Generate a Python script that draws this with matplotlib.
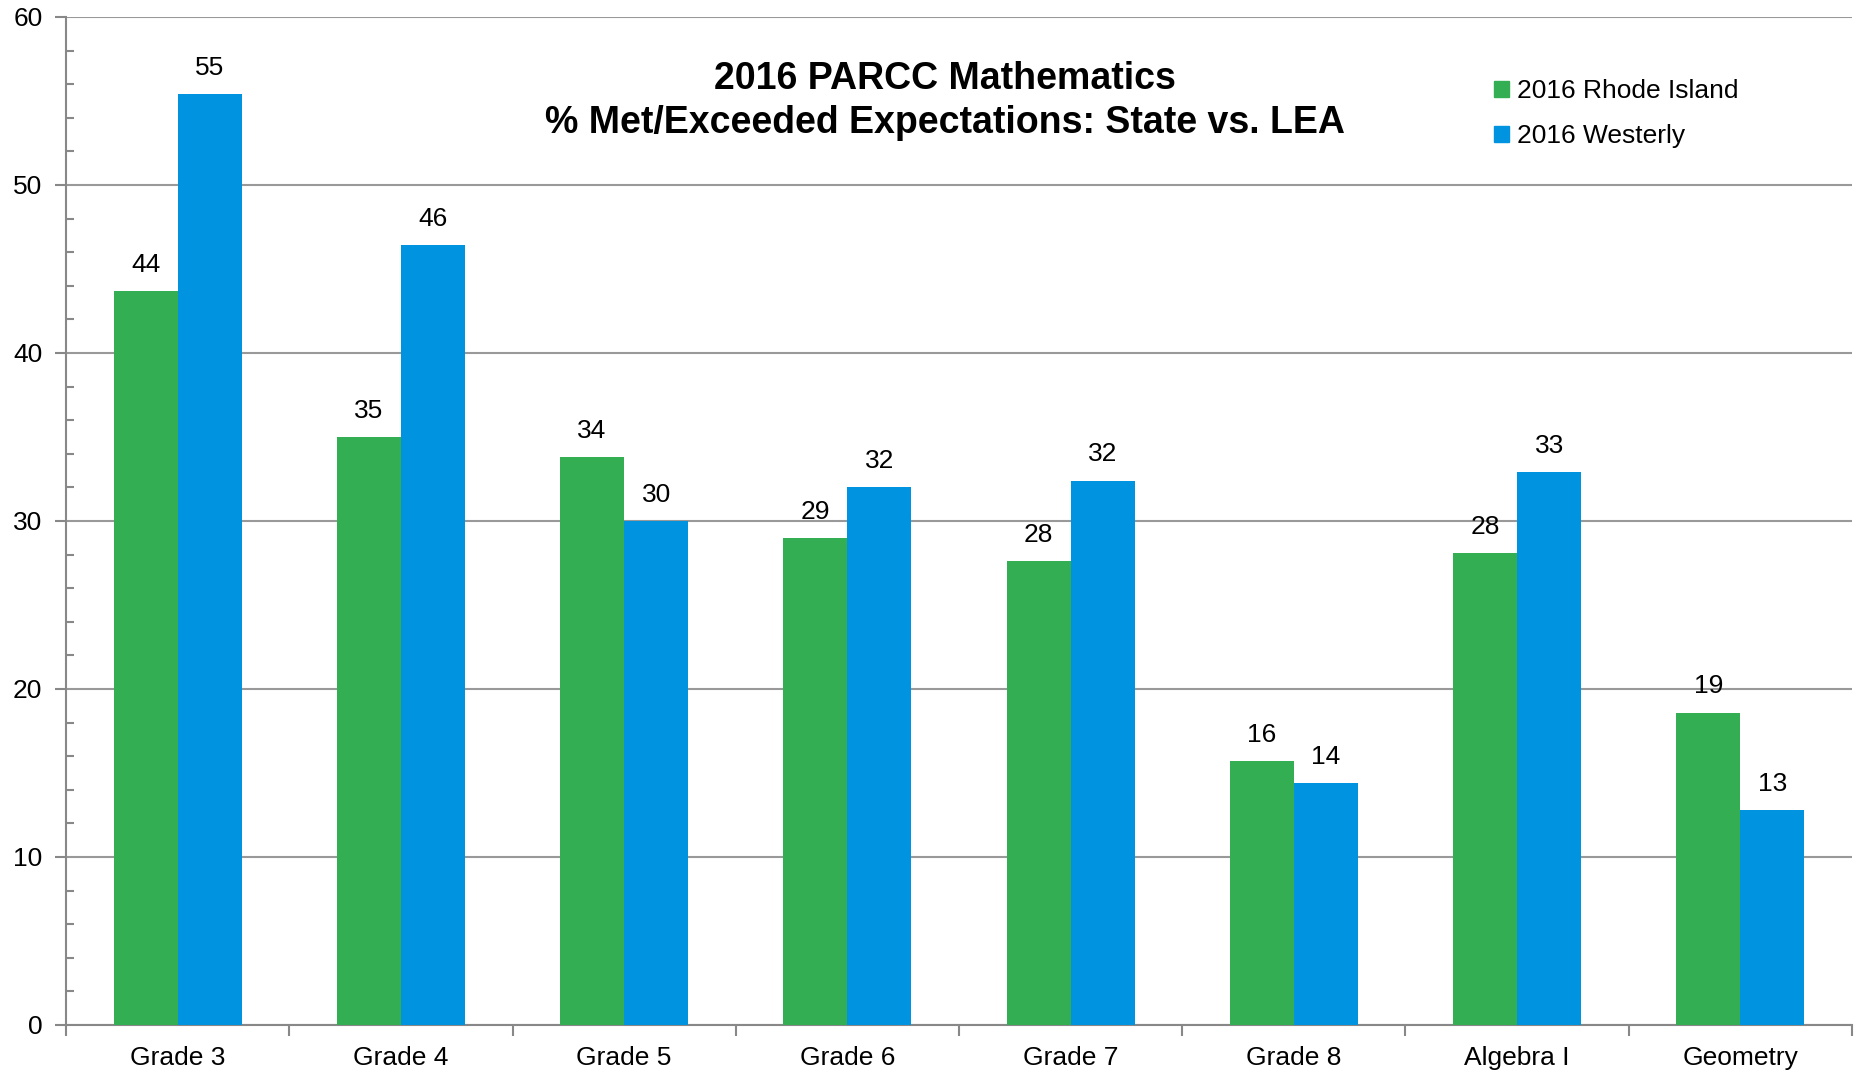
import numpy as np
import matplotlib.pyplot as plt
from matplotlib.patches import Patch

plt.rcParams['font.family'] = ['Liberation Sans', 'DejaVu Sans']

categories = ["Grade 3", "Grade 4", "Grade 5", "Grade 6", "Grade 7", "Grade 8", "Algebra I", "Geometry"]
rhode_island = [43.7, 35.0, 33.8, 29.0, 27.6, 15.7, 28.1, 18.6]
westerly = [55.4, 46.4, 30.0, 32.0, 32.4, 14.4, 32.9, 12.8]
series_names = ["2016 Rhode Island", "2016 Westerly"]

green = "#33ae52"
blue = "#0094e0"
grid_col = "#999999"

fig = plt.figure(figsize=(18.58, 10.72), dpi=100)
ax = fig.add_axes([66 / 1858, 1 - 1025 / 1072, (1852 - 66) / 1858, (1025 - 17) / 1072])

x = np.arange(len(categories))
w = 0.287
b1 = ax.bar(x - w / 2, rhode_island, w, color=green, zorder=3)
b2 = ax.bar(x + w / 2, westerly, w, color=blue, zorder=3)

for bars, vals in ((b1, rhode_island), (b2, westerly)):
    for r, v in zip(bars, vals):
        ax.text(r.get_x() + r.get_width() / 2, v + 0.85, f"{v:.0f}",
                ha="center", va="bottom", fontsize=19)

ax.set_xlim(-0.5, len(categories) - 0.5)
ax.set_ylim(0, 60)

# y axis
ax.set_yticks(np.arange(0, 61, 10))
ax.set_yticks(np.arange(0, 61, 2), minor=True)
ax.tick_params(axis="y", which="major", direction="out", length=8, width=1.5,
               color="#888888", labelsize=19, pad=9)
ax.tick_params(axis="y", which="minor", direction="in", length=6, width=1.5, color="#888888")
ax.yaxis.grid(True, which="major", color=grid_col, linewidth=1.5, zorder=0)

# x axis: ticks between groups, labels at centres
ax.set_xticks(np.arange(-0.5, len(categories), 1.0))
ax.set_xticklabels([])
ax.set_xticks(x, minor=True)
ax.set_xticklabels(categories, minor=True)
ax.tick_params(axis="x", which="major", direction="out", length=8, width=1.5, color="#888888")
ax.tick_params(axis="x", which="minor", length=0, labelsize=19, pad=15)

for s in ("top", "right"):
    ax.spines[s].set_visible(False)
for s in ("left", "bottom"):
    ax.spines[s].set_color("#888888")
    ax.spines[s].set_linewidth(1.5)

fig.text(945 / 1858, 1 - 79 / 1072, "2016 PARCC Mathematics", ha="center", va="center",
         fontsize=27, fontweight="bold")
fig.text(945 / 1858, 1 - 123 / 1072, "% Met/Exceeded Expectations: State vs. LEA", ha="center",
         va="center", fontsize=27, fontweight="bold")

handles = [Patch(color=green), Patch(color=blue)]
ax.legend(handles, series_names, loc="upper left", bbox_to_anchor=(1481 / 1858, 1 - 66 / 1072),
          bbox_transform=fig.transFigure, frameon=False, fontsize=19,
          handlelength=0.55, handleheight=0.55, handletextpad=0.3, labelspacing=0.8, borderpad=0)

fig.savefig("out.png", dpi=100)
